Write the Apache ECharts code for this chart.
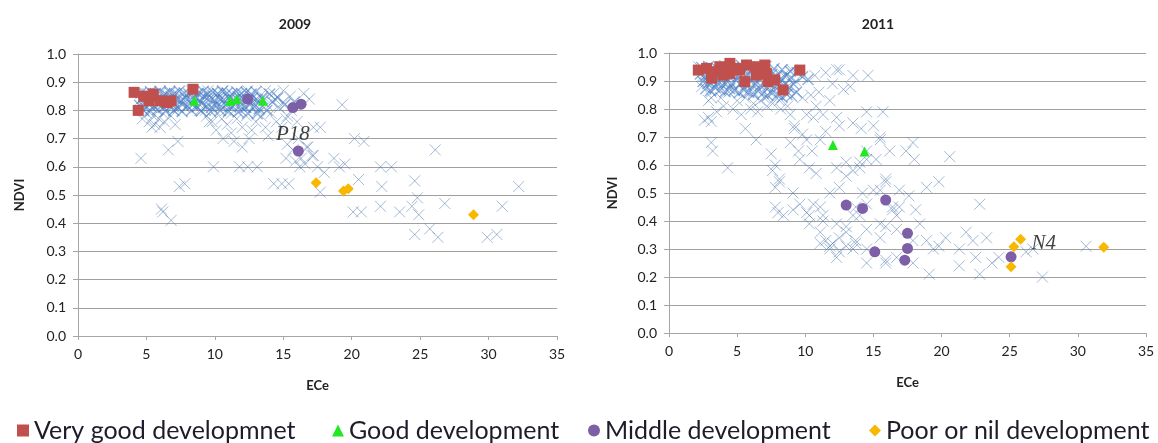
<!DOCTYPE html>
<html><head><meta charset="utf-8">
<script src="https://cdn.jsdelivr.net/npm/echarts@6/dist/echarts.min.js"></script>
<style>html,body{margin:0;padding:0;background:#fff}#c{width:1158px;height:443px}</style>
</head><body><div id="c"></div>
<script>
const chartTitles = ['2009', '2011'];
const xAxisName = 'ECe';
const yAxisName = 'NDVI';
const classNames = ['Very good developmnet', 'Good development', 'Middle development', 'Poor or nil development'];

// 2009 panel
const cross2009 = [
 [4.6,0.84],[4.9,0.82],[5.1,0.86],[5.4,0.81],[5.7,0.84],[6.0,0.86],[6.3,0.81],[6.6,0.85],[6.9,0.82],[7.2,0.86],
 [7.5,0.83],[7.8,0.81],[8.1,0.85],[8.4,0.82],[8.7,0.86],[9.0,0.83],[9.3,0.80],[9.6,0.85],[9.9,0.82],[10.2,0.86],
 [10.5,0.83],[10.8,0.80],[11.1,0.85],[11.4,0.82],[11.7,0.86],[12.0,0.83],[12.3,0.81],[12.6,0.85],[12.9,0.82],[13.2,0.80],
 [13.5,0.85],[13.8,0.82],[14.1,0.79],[14.4,0.84],[14.7,0.81],[15.0,0.83],[15.3,0.78],[15.6,0.80],[16.0,0.76],
 [5.0,0.79],[5.5,0.78],[6.2,0.79],[7.0,0.80],[7.7,0.84],[8.3,0.87],[8.9,0.80],[9.5,0.87],[10.0,0.80],[10.6,0.87],
 [11.2,0.79],[11.9,0.80],[12.4,0.87],[13.0,0.84],[13.7,0.87],[10.4,0.84],[9.2,0.85],[6.7,0.87],[4.8,0.86],
 [4.7,0.77],[5.2,0.76],[5.6,0.75],[5.9,0.77],[6.3,0.76],[6.8,0.78],[7.1,0.75],[5.4,0.74],[6.0,0.74],
 [9.4,0.78],[9.8,0.76],[10.1,0.73],[10.5,0.77],[10.9,0.75],[11.2,0.72],[11.6,0.77],[12.0,0.74],[12.3,0.78],[12.7,0.73],
 [13.0,0.76],[13.4,0.78],[13.7,0.74],[13.9,0.71],[12.5,0.70],[11.4,0.69],
 [14.5,0.76],[14.9,0.74],[15.2,0.77],[14.3,0.86],[15.0,0.87],[15.5,0.85],[16.5,0.86],[16.9,0.84],[15.3,0.68],[15.7,0.66],
 [16.3,0.63],[16.6,0.61],[15.9,0.62],[16.8,0.67],[17.1,0.64],[16.1,0.70],[17.5,0.60],
 [4.6,0.63],[6.6,0.66],[7.3,0.69],[7.4,0.53],[7.8,0.54],[6.2,0.44],[6.8,0.41],[6.1,0.45],[9.9,0.60],[11.8,0.60],
 [12.4,0.60],[13.1,0.60],[12.0,0.67],[14.3,0.54],[14.9,0.54],[15.4,0.54],[10.6,0.70],[9.6,0.76],[16.2,0.60],[17.2,0.64],
 [15.2,0.63],[16.7,0.67],[18.7,0.63],[19.3,0.82],[17.2,0.74],[20.2,0.70],[20.9,0.69],[26.1,0.66],[19.5,0.61],[19.1,0.60],
 [22.1,0.60],[22.9,0.60],[20.5,0.555],[22.2,0.53],[24.6,0.55],[32.2,0.53],[20.1,0.44],[20.7,0.44],[22.1,0.46],[23.5,0.44],
 [24.4,0.46],[24.9,0.43],[26.8,0.47],[31.0,0.46],[24.6,0.36],[25.7,0.38],[26.3,0.35],[29.9,0.35],[30.6,0.36],[24.8,0.49],
 [17.7,0.51],[17.7,0.74],[18.0,0.58]
];
// the solid blue band of overlapping crosses, 2009
const band2009 = [
 [4.5,0.818],[4.85,0.812],[5.2,0.822],[5.55,0.815],[5.9,0.82],[6.25,0.812],[6.6,0.824],[6.95,0.816],[7.3,0.81],[7.65,0.822],
 [8.0,0.815],[8.35,0.82],[8.7,0.812],[9.05,0.824],[9.4,0.816],[9.75,0.81],[10.1,0.822],[10.45,0.815],[10.8,0.82],[11.15,0.812],
 [11.5,0.824],[11.85,0.816],[12.2,0.81],[12.55,0.82],[12.9,0.813],[13.25,0.806],
 [4.7,0.842],[5.05,0.836],[5.4,0.846],[5.75,0.838],[6.1,0.844],[6.45,0.836],[6.8,0.848],[7.15,0.84],[7.5,0.835],[7.85,0.846],
 [8.2,0.838],[8.55,0.844],[8.9,0.836],[9.25,0.848],[9.6,0.84],[9.95,0.835],[10.3,0.846],[10.65,0.838],[11.0,0.844],[11.35,0.836],
 [11.7,0.848],[12.05,0.84],[12.4,0.835],[12.75,0.845],[13.1,0.838],[13.45,0.842],
 [4.6,0.862],[4.95,0.858],[5.3,0.866],[5.65,0.86],[6.0,0.868],[6.35,0.858],[6.7,0.864],[7.05,0.86],[7.4,0.868],[7.75,0.862],
 [8.1,0.858],[8.45,0.866],[8.8,0.86],[9.15,0.868],[9.5,0.858],[9.85,0.864],[10.2,0.86],[10.55,0.868],[10.9,0.862],[11.25,0.858],
 [11.6,0.866],[11.95,0.86],[12.3,0.864],[12.65,0.858],[13.0,0.866],
 [4.8,0.80],[5.3,0.798],[5.8,0.802],[6.4,0.797],[7.0,0.80],[7.6,0.796],[8.3,0.80],[9.0,0.798],[9.7,0.795],[10.4,0.80],
 [11.0,0.797],[11.7,0.794],[12.4,0.79],[13.1,0.788],[13.8,0.80],[14.2,0.83],[14.6,0.845],[14.0,0.858],[15.1,0.82],[15.8,0.83]
];
const veryGood2009 = [[4.1,0.864],[4.4,0.80],[5.5,0.858],[5.2,0.834],[6.0,0.834],[6.5,0.828],[6.8,0.834],[8.4,0.875],[4.8,0.85]];
const good2009 = [[8.5,0.834],[11.1,0.834],[11.6,0.84],[13.5,0.834]];
const middle2009 = [[12.4,0.84],[15.7,0.81],[16.3,0.822],[16.1,0.656]];
const poor2009 = [[17.4,0.543],[19.4,0.514],[19.75,0.522],[28.9,0.43]];
const note2009 = [{name: 'P18', value: [15.7, 0.715]}];

// 2011 panel
const cross2011 = [
 [2.2,0.95],[2.5,0.92],[2.8,0.90],[3.0,0.94],[3.3,0.88],[3.6,0.91],[3.9,0.95],[4.2,0.89],[4.5,0.92],[4.8,0.87],
 [5.1,0.94],[5.4,0.90],[5.7,0.86],[6.0,0.93],[6.3,0.89],[6.6,0.95],[6.9,0.91],[7.2,0.87],[7.5,0.93],[7.8,0.89],
 [8.1,0.85],[8.4,0.92],[8.7,0.88],[9.0,0.94],[9.3,0.90],[2.4,0.88],[3.1,0.86],[3.8,0.84],[4.4,0.86],[5.0,0.83],
 [5.6,0.84],[6.2,0.82],[7.0,0.84],[7.6,0.82],[8.2,0.80],[4.0,0.81],[4.7,0.80],[2.9,0.83],[3.5,0.79],[6.5,0.79],[5.3,0.78],
 [2.6,0.76],[3.1,0.755],[2.9,0.77],[3.1,0.68],[3.2,0.65],[4.3,0.59],[3.1,0.84],[5.6,0.73],[6.4,0.69],[6.0,0.80],
 [7.5,0.64],[7.8,0.60],[8.1,0.55],[6.7,0.83],[7.2,0.81],[7.4,0.86],[8.1,0.83],[8.7,0.81],[8.9,0.78],[9.2,0.74],
 [8.9,0.68],[9.8,0.84],[10.4,0.85],[10.8,0.81],[10.1,0.78],[10.6,0.77],[11.0,0.86],[11.8,0.83],[11.3,0.78],[10.7,0.92],
 [11.5,0.93],[12.3,0.94],[13.5,0.92],[13.3,0.88],[14.1,0.73],[13.5,0.75],[12.5,0.74],[12.3,0.77],[15.7,0.79],[15.5,0.69],
 [16.2,0.65],[11.5,0.72],[11.1,0.69],[10.5,0.65],[9.8,0.71],[9.6,0.62],[10.3,0.59],[10.8,0.57],[9.5,0.65],[7.6,0.58],
 [8.1,0.54],[7.8,0.52],[8.0,0.43],[8.4,0.42],[7.8,0.45],[9.1,0.50],[9.6,0.46],[10.1,0.43],[11.1,0.45],[11.8,0.50],
 [12.5,0.52],[13.0,0.56],[13.5,0.58],[14.0,0.61],[14.5,0.62],[10.3,0.39],[11.3,0.42],[12.3,0.39],[11.5,0.33],[12.5,0.34],
 [13.0,0.38],[13.5,0.42],[13.7,0.45],[14.5,0.46],[15.5,0.51],[15.9,0.55],[16.4,0.45],[16.7,0.42],[11.1,0.32],[11.8,0.30],
 [12.3,0.27],[13.0,0.31],[13.7,0.32],[14.5,0.30],[15.5,0.34],[15.9,0.38],[16.7,0.27],[17.9,0.25],[17.9,0.33],[15.9,0.25],
 [14.5,0.25],[15.0,0.74],[15.5,0.70],[14.5,0.65],[15.2,0.62],[14.0,0.59],[17.9,0.68],[17.4,0.65],[18.0,0.62],[18.1,0.44],
 [17.6,0.49],[16.9,0.51],[9.2,0.73],[10.1,0.69],[14.5,0.79],[12.0,0.89],[12.8,0.87],[6.2,0.86],[6.0,0.88],
 [10.3,0.42],[11.3,0.40],[10.6,0.46],[9.1,0.44],[12.0,0.32],[13.0,0.36],[13.5,0.30],[14.5,0.37],[14.0,0.42],[15.5,0.39],
 [16.4,0.44],[16.7,0.37],[15.9,0.26],[18.4,0.39],[18.9,0.33],[19.4,0.30],[20.3,0.34],[19.8,0.31],[21.3,0.30],[21.8,0.36],
 [22.5,0.27],[22.8,0.21],[21.3,0.24],[24.2,0.27],[23.7,0.25],[27.4,0.20],[19.1,0.21],[30.6,0.31],[15.0,0.51],[14.2,0.50],
 [12.3,0.59],[13.0,0.61],[15.9,0.54],[16.9,0.45],[13.7,0.33],[11.8,0.31],[11.1,0.36],[12.5,0.29],[26.7,0.30],[26.2,0.29],
 [22.3,0.33],[23.3,0.34],[20.6,0.63],[22.8,0.46],[18.9,0.52],[19.8,0.54],[14.6,0.92],[12.5,0.94]
];
// the solid blue top band of overlapping crosses, 2011
const band2011 = [
 [2.3,0.925],[2.65,0.918],[3.0,0.928],[3.35,0.92],[3.7,0.912],[4.05,0.924],[4.4,0.916],[4.75,0.928],[5.1,0.92],[5.45,0.912],
 [5.8,0.924],[6.15,0.916],[6.5,0.928],[6.85,0.92],[7.2,0.912],[7.55,0.924],[7.9,0.916],[8.25,0.908],[8.6,0.92],[8.95,0.912],
 [2.5,0.898],[2.85,0.89],[3.2,0.902],[3.55,0.894],[3.9,0.886],[4.25,0.898],[4.6,0.89],[4.95,0.902],[5.3,0.894],[5.65,0.886],
 [6.0,0.898],[6.35,0.89],[6.7,0.884],[7.05,0.896],[7.4,0.888],[7.75,0.88],[8.1,0.892],[8.45,0.884],[8.8,0.876],[9.15,0.888],
 [2.7,0.872],[3.05,0.866],[3.4,0.876],[3.75,0.868],[4.1,0.862],[4.45,0.872],[4.8,0.866],[5.15,0.858],[5.5,0.868],[5.85,0.86],
 [6.2,0.852],[6.55,0.864],[6.9,0.856],[7.25,0.848],[7.6,0.858],[7.95,0.85],[8.3,0.842],[8.65,0.852],[9.0,0.846],[9.35,0.86],
 [2.4,0.948],[2.9,0.952],[3.5,0.946],[4.1,0.954],[4.7,0.948],[5.3,0.956],[5.9,0.95],[6.5,0.946],[7.1,0.952],[7.7,0.944],
 [8.3,0.94],[8.9,0.935],[9.4,0.93],[9.8,0.915],[10.2,0.905]
];
const veryGood2011 = [[2.15,0.939],[2.76,0.945],[3.24,0.933],[3.73,0.951],[4.47,0.963],[4.47,0.927],[5.2,0.939],[5.69,0.957],
 [5.56,0.898],[7.03,0.957],[7.15,0.927],[7.76,0.904],[8.37,0.868],[9.6,0.939],[3.12,0.91],[3.97,0.921],[4.96,0.945],
 [6.3,0.951],[6.42,0.921],[7.27,0.898]];
const good2011 = [[12.03,0.671],[14.35,0.648]];
const middle2011 = [[13.0,0.457],[14.2,0.445],[15.9,0.475],[17.5,0.356],[17.5,0.302],[15.1,0.29],[17.3,0.26],[25.1,0.272]];
const poor2011 = [[25.8,0.335],[25.3,0.308],[25.1,0.237],[31.9,0.306]];
const note2011 = [{name: 'N4', value: [27.5, 0.32]}];

const xTicks = [0, 5, 10, 15, 20, 25, 30, 35];
const yTickStep = 0.1;

const FONT = 'Lato';
const colors = ['#C0504D', '#22E822', '#7C5FA6', '#F8B800'];
const symbols = ['rect', 'triangle', 'circle', 'diamond'];
const symbolSizes = [11, 10, 11, 11];
const panels = [
  {cross: cross2009, band: band2009, groups: [veryGood2009, good2009, middle2009, poor2009], note: note2009},
  {cross: cross2011, band: band2011, groups: [veryGood2011, good2011, middle2011, poor2011], note: note2011}
];
const grids = [
  {left: 78, top: 54, width: 479, height: 282},
  {left: 669, top: 53, width: 477, height: 280}
];

function xAxisFor(i) {
  return {
    gridIndex: i, type: 'value', min: xTicks[0], max: xTicks[xTicks.length - 1], interval: xTicks[1] - xTicks[0],
    name: xAxisName, nameLocation: 'middle', nameGap: 43,
    nameTextStyle: {fontFamily: FONT, fontWeight: 'bold', fontSize: 13, color: '#222'},
    axisLine: {show: true, lineStyle: {color: '#a6a6a6'}},
    axisTick: {show: true, length: 4, lineStyle: {color: '#a6a6a6'}},
    axisLabel: {fontFamily: FONT, fontSize: 14, color: '#222', margin: 11},
    splitLine: {show: false}
  };
}
function yAxisFor(i) {
  return {
    gridIndex: i, type: 'value', min: 0, max: 1, interval: yTickStep,
    name: yAxisName, nameLocation: 'middle', nameGap: i === 0 ? 52 : 50, nameRotate: 90,
    nameTextStyle: {fontFamily: FONT, fontWeight: 'bold', fontSize: 13, color: '#222'},
    axisLine: {show: true, lineStyle: {color: '#a6a6a6'}},
    axisTick: {show: true, length: 5, lineStyle: {color: '#a6a6a6'}},
    axisLabel: {fontFamily: FONT, fontSize: 14, color: '#222', margin: 12, formatter: v => v.toFixed(1)},
    splitLine: {show: true, lineStyle: {color: '#a0a0a0', width: 1}}
  };
}

const crossStyle = {color: 'none', borderColor: 'rgba(65,110,170,0.6)', borderWidth: 1};
const series = [];
panels.forEach((p, i) => {
  series.push({
    type: 'scatter', xAxisIndex: i, yAxisIndex: i, name: 'NDVI vs ECe', data: p.cross, z: 2,
    symbol: 'path://M0 0L10 10M10 0L0 10', symbolSize: 11, silent: true, itemStyle: crossStyle
  });
  series.push({
    type: 'scatter', xAxisIndex: i, yAxisIndex: i, name: 'NDVI vs ECe band', data: p.band, z: 2,
    symbol: 'path://M0 0L10 10M10 0L0 10', symbolSize: 11, silent: true,
    itemStyle: {color: 'none', borderColor: 'rgba(70,125,200,0.75)', borderWidth: 1.4}
  });
  p.groups.forEach((g, k) => {
    series.push({
      type: 'scatter', xAxisIndex: i, yAxisIndex: i, name: classNames[k], data: g, z: 5,
      symbol: symbols[k], symbolSize: symbolSizes[k], silent: true,
      itemStyle: {color: colors[k], opacity: 1}
    });
  });
  series.push({
    type: 'scatter', xAxisIndex: i, yAxisIndex: i, name: 'note', data: p.note, z: 6,
    symbolSize: 0, silent: true,
    label: {show: true, position: 'inside', formatter: '{b}', fontFamily: 'Liberation Serif',
      fontStyle: 'italic', fontSize: 21, color: '#111'}
  });
});

const legendLefts = [12, 327, 583, 864];
const legends = classNames.map((n, k) => ({
  data: [{name: n, icon: symbols[k]}], left: legendLefts[k], top: 413,
  itemWidth: 12, itemHeight: 12, selectedMode: false,
  textStyle: {fontFamily: FONT, fontSize: 25, color: '#1d1d2a'}
}));

const chart = echarts.init(document.getElementById('c'), null, {renderer: 'canvas'});
chart.setOption({
  animation: false,
  backgroundColor: '#fff',
  title: [
    {text: chartTitles[0], left: 290, top: 12, textAlign: 'center', textStyle: {fontFamily: FONT, fontWeight: 'bold', fontSize: 14, color: '#222'}},
    {text: chartTitles[1], left: 873, top: 12, textAlign: 'center', textStyle: {fontFamily: FONT, fontWeight: 'bold', fontSize: 14, color: '#222'}}
  ],
  legend: legends,
  grid: grids,
  xAxis: [xAxisFor(0), xAxisFor(1)],
  yAxis: [yAxisFor(0), yAxisFor(1)],
  series: series
});
</script>
</body></html>
